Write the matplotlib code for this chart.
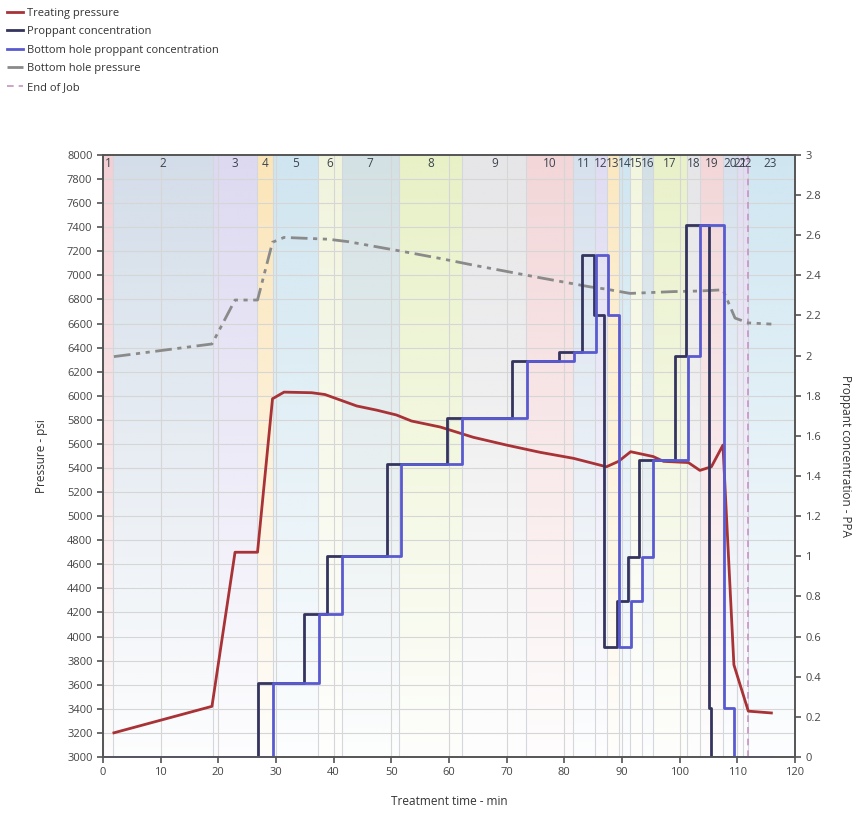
import matplotlib
matplotlib.use("Agg")
import matplotlib.pyplot as plt
import numpy as np
from matplotlib.colors import to_rgb
from matplotlib.ticker import FuncFormatter, MultipleLocator

plt.rcParams["font.family"] = ["Open Sans", "DejaVu Sans"]

# stage boundaries (min) and their labels along the top of the plot
stage_edges = [0, 1.8, 19.0, 26.7, 29.5, 37.3, 41.4, 51.3, 62.3, 73.4, 81.5, 85.3,
               87.4, 89.5, 91.4, 93.5, 95.4, 101.3, 103.5, 107.5, 110.0, 110.9,
               111.8, 119.7]
stage_labels = [str(i) for i in range(1, 24)]

# treating pressure (psi)
tp_time = [1.9, 18.9, 22.9, 26.8, 29.4, 31.4, 36.2, 38.5, 41.4, 44.0, 47.5, 50.9,
           53.5, 58.5, 64.2, 70.0, 75.8, 81.6, 87.3, 89.4, 91.5, 95.4, 97.2,
           101.5, 103.5, 105.5, 107.5, 109.4, 111.9, 115.9]
tp_psi = [3200, 3420, 4700, 4700, 5975, 6030, 6025, 6010, 5960, 5915, 5880, 5840,
          5790, 5740, 5655, 5590, 5530, 5480, 5410, 5455, 5535, 5495, 5455,
          5445, 5380, 5410, 5590, 3765, 3380, 3365]

# bottom hole pressure (psi)
bhp_time = [1.9, 18.9, 22.9, 26.8, 29.4, 31.4, 39.1, 42.5, 51.2, 53.5, 58.5, 64.2,
            75.8, 84.4, 87.3, 91.4, 98.9, 103.5, 107.5, 109.6, 111.9, 115.9]
bhp_psi = [6325, 6430, 6795, 6795, 7275, 7315, 7300, 7280, 7205, 7185, 7140, 7085,
           6980, 6905, 6885, 6850, 6865, 6870, 6880, 6645, 6605, 6595]

# proppant concentration at surface (PPA), step changes
prop_time = [0, 26.8, 34.9, 38.9, 49.2, 59.7, 71.0, 79.0, 83.0, 85.1, 86.9, 89.1,
             91.0, 93.0, 99.2, 101.1, 105.1, 105.5, 116.0]
prop_ppa = [0, 0.37, 0.71, 1.0, 1.46, 1.69, 1.975, 2.02, 2.5, 2.2, 0.547, 0.778,
            0.995, 1.48, 2.0, 2.65, 0.246, 0, 0]

# bottom hole proppant concentration (PPA), step changes
bh_prop_time = [0, 29.4, 37.4, 41.5, 51.6, 62.2, 73.6, 81.6, 85.5, 87.6, 89.5, 91.5,
                93.5, 95.4, 101.5, 103.5, 107.6, 109.5, 116.0]
bh_prop_ppa = [0, 0.37, 0.71, 1.0, 1.46, 1.69, 1.975, 2.02, 2.5, 2.2, 0.547, 0.778,
               0.995, 1.48, 2.0, 2.65, 0.246, 0, 0]

end_of_job = 111.8

# pale stage band colours (top of band; they fade to white downwards)
stage_colors = ["#f3cfd4", "#d3dde9", "#ddd9f1", "#fbe5b8", "#cfe5f0", "#f1f4dc",
                "#d3e1e4", "#e8f1c6", "#e6e6e8", "#f3d6d8", "#d6e1ee", "#e0dcf3",
                "#fbe8c0", "#cfe6f1", "#f3f6de", "#d2e0e6", "#e9f1c9", "#e6e6e8",
                "#f3d6d8", "#d6e1ee", "#e2dcf2", "#e2dcf2", "#cfe6f1"]

fig = plt.figure(figsize=(8.58, 8.13), dpi=100)
ax = fig.add_axes([0.12, 0.069, 0.8066, 0.7404])
ax2 = ax.twinx()

# stage bands with a vertical fade
fade = np.linspace(1.0, 0.05, 200)[:, None]
for i, (x0, x1) in enumerate(zip(stage_edges[:-1], stage_edges[1:])):
    img = np.zeros((200, 1, 4))
    img[:, :, :3] = to_rgb(stage_colors[i])
    img[:, :, 3] = fade
    ax.imshow(img, extent=[x0, x1, 3000, 8000], aspect="auto", zorder=0,
              interpolation="bilinear")
    ax.text((x0 + x1) / 2, 7930, stage_labels[i], ha="center", va="center",
            fontsize=8.5, color="#3c4450", zorder=5)
    if i > 0:
        ax.axvline(x0, color="#d4d8dc", lw=0.8, zorder=1)

ax.grid(True, color="#d6d6d6", lw=0.8, zorder=1)
ax.set_axisbelow(True)

tp_line, = ax.plot(tp_time, tp_psi, color="#a83236", lw=2, zorder=4,
                   label="Treating pressure")
bhp_line, = ax.plot(bhp_time, bhp_psi, color="#8a8a8a", lw=2, zorder=4,
                    dashes=(6, 2, 1.5, 2, 1.5, 2), label="Bottom hole pressure")
eoj_line = ax.axvline(end_of_job, color="#c793c4", lw=1.2, ls=(0, (4, 3)),
                      zorder=3, label="End of Job")

prop_line, = ax2.step(prop_time, prop_ppa, where="post", color="#34345e", lw=2,
                      label="Proppant concentration")
bh_line, = ax2.step(bh_prop_time, bh_prop_ppa, where="post", color="#5a5ad0",
                    lw=2, label="Bottom hole proppant concentration")

ax.set_xlim(0, 120)
ax.set_ylim(3000, 8000)
ax2.set_ylim(0, 3)
ax.xaxis.set_major_locator(MultipleLocator(10))
ax.yaxis.set_major_locator(MultipleLocator(200))
ax2.yaxis.set_major_locator(MultipleLocator(0.2))
ax2.yaxis.set_major_formatter(FuncFormatter(lambda v, p: f"{v:g}"))

for a in (ax, ax2):
    for s in a.spines.values():
        s.set_color("#555555")
        s.set_linewidth(1.2)
    a.tick_params(labelsize=8, colors="#444444", length=4, width=1.1)

ax.set_xlabel("Treatment time - min", fontsize=8.5, color="#333333", labelpad=12)
ax.set_ylabel("Pressure - psi", fontsize=8.5, color="#333333", labelpad=14)
ax2.set_ylabel("Proppant concentration - PPA", fontsize=8.5, color="#333333",
               rotation=270, labelpad=22)

handles = [tp_line, prop_line, bh_line, bhp_line, eoj_line]
fig.legend(handles, [h.get_label() for h in handles], loc="upper left",
           bbox_to_anchor=(-0.004, 1.003), frameon=False, fontsize=8,
           handlelength=1.5, handletextpad=0.35, labelspacing=0.68,
           labelcolor="#333333")

fig.savefig("out.png", dpi=100)
